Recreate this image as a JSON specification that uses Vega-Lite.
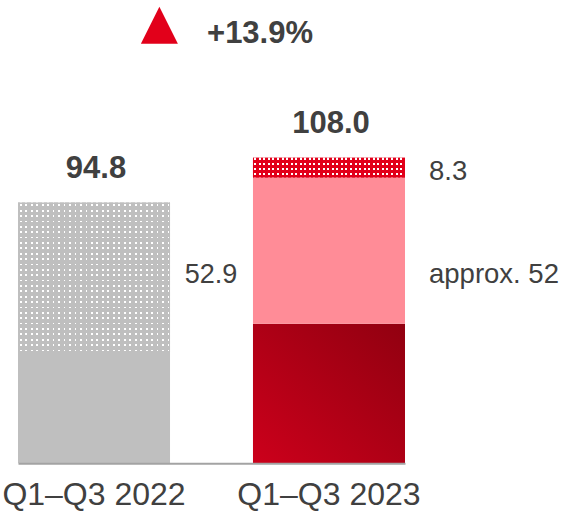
{
 "$schema": "https://vega.github.io/schema/vega-lite/v6.json",
 "width": 562,
 "height": 463.3,
 "autosize": "none",
 "padding": {"left": 0, "top": 0, "right": 0, "bottom": 48.7},
 "background": "white",
 "config": {"view": {"stroke": null}, "font": "Liberation Sans"},
 "datasets": {
  "bars": [
   {"cat": "Q1–Q3 2022", "seg": "grey", "order": 1, "v": 40.5, "totalLabel": "94.8"},
   {"cat": "Q1–Q3 2022", "seg": "greydots", "order": 2, "v": 54.3, "totalLabel": "94.8"},
   {"cat": "Q1–Q3 2023", "seg": "dark", "order": 1, "v": 50.7, "totalLabel": "108.0"},
   {"cat": "Q1–Q3 2023", "seg": "pink", "order": 2, "v": 53.2, "totalLabel": "108.0"},
   {"cat": "Q1–Q3 2023", "seg": "reddots", "order": 3, "v": 7.2, "totalLabel": "108.0"}
  ],
  "labels": [
   {"cat": "Q1–Q3 2022", "label": "52.9", "at": 65.5},
   {"cat": "Q1–Q3 2023", "label": "approx. 52", "at": 65.6},
   {"cat": "Q1–Q3 2023", "label": "8.3", "at": 103.0}
  ],
  "head": [{"label": "+13.9%", "at": 152.9, "tri": 159.3}]
 },
 "layer": [
  {
   "data": {"name": "bars"},
   "transform": [
    {"stack": "v", "groupby": ["cat"], "sort": [{"field": "order", "order": "ascending"}], "as": ["y0", "y1"]}
   ],
   "layer": [
    {
     "transform": [{"filter": "datum.seg === 'grey'"}],
     "mark": {"type": "bar", "fill": "#bfbfbf"},
     "encoding": {
      "x": {"field": "cat", "type": "nominal", "sort": null,
        "scale": {"range": [18, 405], "paddingInner": 0.353, "paddingOuter": 0},
        "axis": {"title": null, "domainColor": "#a3a3a3", "domainWidth": 2, "ticks": false, "grid": false,
          "labelFontSize": 32, "labelColor": "#404040", "labelPadding": 16, "labelAngle": 0, "labelLimit": 0,
          "labelFont": "Liberation Sans", "zindex": 1}},
      "y": {"field": "y0", "type": "quantitative", "scale": {"domain": [0, 168.47], "nice": false, "zero": false}, "axis": null},
      "y2": {"field": "y1"}
     }
    },
    {
     "transform": [{"filter": "datum.seg === 'greydots'"}],
     "mark": {"type": "bar", "fill": {"gradient": "linear", "x1": 0, "y1": 0, "x2": 0, "y2": 1, "stops": [
      {"offset": 0, "color": "#bfbfbf"},
      {"offset": 0.012, "color": "#bfbfbf"}, {"offset": 0.012, "color": "#ffffff"}, {"offset": 0.024, "color": "#ffffff"}, {"offset": 0.024, "color": "#bfbfbf"},
      {"offset": 0.048, "color": "#bfbfbf"}, {"offset": 0.048, "color": "#ffffff"}, {"offset": 0.060, "color": "#ffffff"}, {"offset": 0.060, "color": "#bfbfbf"},
      {"offset": 0.084, "color": "#bfbfbf"}, {"offset": 0.084, "color": "#ffffff"}, {"offset": 0.096, "color": "#ffffff"}, {"offset": 0.096, "color": "#bfbfbf"},
      {"offset": 0.120, "color": "#bfbfbf"}, {"offset": 0.120, "color": "#ffffff"}, {"offset": 0.132, "color": "#ffffff"}, {"offset": 0.132, "color": "#bfbfbf"},
      {"offset": 0.156, "color": "#bfbfbf"}, {"offset": 0.156, "color": "#ffffff"}, {"offset": 0.168, "color": "#ffffff"}, {"offset": 0.168, "color": "#bfbfbf"},
      {"offset": 0.192, "color": "#bfbfbf"}, {"offset": 0.192, "color": "#ffffff"}, {"offset": 0.204, "color": "#ffffff"}, {"offset": 0.204, "color": "#bfbfbf"},
      {"offset": 0.228, "color": "#bfbfbf"}, {"offset": 0.228, "color": "#ffffff"}, {"offset": 0.240, "color": "#ffffff"}, {"offset": 0.240, "color": "#bfbfbf"},
      {"offset": 0.264, "color": "#bfbfbf"}, {"offset": 0.264, "color": "#ffffff"}, {"offset": 0.276, "color": "#ffffff"}, {"offset": 0.276, "color": "#bfbfbf"},
      {"offset": 0.300, "color": "#bfbfbf"}, {"offset": 0.300, "color": "#ffffff"}, {"offset": 0.312, "color": "#ffffff"}, {"offset": 0.312, "color": "#bfbfbf"},
      {"offset": 0.336, "color": "#bfbfbf"}, {"offset": 0.336, "color": "#ffffff"}, {"offset": 0.348, "color": "#ffffff"}, {"offset": 0.348, "color": "#bfbfbf"},
      {"offset": 0.372, "color": "#bfbfbf"}, {"offset": 0.372, "color": "#ffffff"}, {"offset": 0.384, "color": "#ffffff"}, {"offset": 0.384, "color": "#bfbfbf"},
      {"offset": 0.408, "color": "#bfbfbf"}, {"offset": 0.408, "color": "#ffffff"}, {"offset": 0.420, "color": "#ffffff"}, {"offset": 0.420, "color": "#bfbfbf"},
      {"offset": 0.444, "color": "#bfbfbf"}, {"offset": 0.444, "color": "#ffffff"}, {"offset": 0.456, "color": "#ffffff"}, {"offset": 0.456, "color": "#bfbfbf"},
      {"offset": 0.480, "color": "#bfbfbf"}, {"offset": 0.480, "color": "#ffffff"}, {"offset": 0.492, "color": "#ffffff"}, {"offset": 0.492, "color": "#bfbfbf"},
      {"offset": 0.516, "color": "#bfbfbf"}, {"offset": 0.516, "color": "#ffffff"}, {"offset": 0.528, "color": "#ffffff"}, {"offset": 0.528, "color": "#bfbfbf"},
      {"offset": 0.552, "color": "#bfbfbf"}, {"offset": 0.552, "color": "#ffffff"}, {"offset": 0.564, "color": "#ffffff"}, {"offset": 0.564, "color": "#bfbfbf"},
      {"offset": 0.588, "color": "#bfbfbf"}, {"offset": 0.588, "color": "#ffffff"}, {"offset": 0.600, "color": "#ffffff"}, {"offset": 0.600, "color": "#bfbfbf"},
      {"offset": 0.624, "color": "#bfbfbf"}, {"offset": 0.624, "color": "#ffffff"}, {"offset": 0.636, "color": "#ffffff"}, {"offset": 0.636, "color": "#bfbfbf"},
      {"offset": 0.660, "color": "#bfbfbf"}, {"offset": 0.660, "color": "#ffffff"}, {"offset": 0.672, "color": "#ffffff"}, {"offset": 0.672, "color": "#bfbfbf"},
      {"offset": 0.696, "color": "#bfbfbf"}, {"offset": 0.696, "color": "#ffffff"}, {"offset": 0.708, "color": "#ffffff"}, {"offset": 0.708, "color": "#bfbfbf"},
      {"offset": 0.732, "color": "#bfbfbf"}, {"offset": 0.732, "color": "#ffffff"}, {"offset": 0.744, "color": "#ffffff"}, {"offset": 0.744, "color": "#bfbfbf"},
      {"offset": 0.768, "color": "#bfbfbf"}, {"offset": 0.768, "color": "#ffffff"}, {"offset": 0.780, "color": "#ffffff"}, {"offset": 0.780, "color": "#bfbfbf"},
      {"offset": 0.804, "color": "#bfbfbf"}, {"offset": 0.804, "color": "#ffffff"}, {"offset": 0.816, "color": "#ffffff"}, {"offset": 0.816, "color": "#bfbfbf"},
      {"offset": 0.840, "color": "#bfbfbf"}, {"offset": 0.840, "color": "#ffffff"}, {"offset": 0.852, "color": "#ffffff"}, {"offset": 0.852, "color": "#bfbfbf"},
      {"offset": 0.876, "color": "#bfbfbf"}, {"offset": 0.876, "color": "#ffffff"}, {"offset": 0.888, "color": "#ffffff"}, {"offset": 0.888, "color": "#bfbfbf"},
      {"offset": 0.912, "color": "#bfbfbf"}, {"offset": 0.912, "color": "#ffffff"}, {"offset": 0.924, "color": "#ffffff"}, {"offset": 0.924, "color": "#bfbfbf"},
      {"offset": 0.948, "color": "#bfbfbf"}, {"offset": 0.948, "color": "#ffffff"}, {"offset": 0.960, "color": "#ffffff"}, {"offset": 0.960, "color": "#bfbfbf"},
      {"offset": 0.984, "color": "#bfbfbf"}, {"offset": 0.984, "color": "#ffffff"}, {"offset": 0.996, "color": "#ffffff"}, {"offset": 0.996, "color": "#bfbfbf"},
      {"offset": 1, "color": "#bfbfbf"}
     ]}},
     "encoding": {
      "x": {"field": "cat", "type": "nominal", "sort": null},
      "y": {"field": "y0", "type": "quantitative", "axis": null},
      "y2": {"field": "y1"}
     }
    },
    {
     "transform": [{"filter": "datum.seg === 'greydots'"}],
     "mark": {"type": "bar", "fill": {"gradient": "linear", "x1": 0, "y1": 0, "x2": 1, "y2": 0, "stops": [
      {"offset": 0, "color": "#bfbfbf"},
      {"offset": 0.012, "color": "#bfbfbf"}, {"offset": 0.012, "color": "rgba(191,191,191,0)"}, {"offset": 0.024, "color": "rgba(191,191,191,0)"}, {"offset": 0.024, "color": "#bfbfbf"},
      {"offset": 0.048, "color": "#bfbfbf"}, {"offset": 0.048, "color": "rgba(191,191,191,0)"}, {"offset": 0.060, "color": "rgba(191,191,191,0)"}, {"offset": 0.060, "color": "#bfbfbf"},
      {"offset": 0.084, "color": "#bfbfbf"}, {"offset": 0.084, "color": "rgba(191,191,191,0)"}, {"offset": 0.096, "color": "rgba(191,191,191,0)"}, {"offset": 0.096, "color": "#bfbfbf"},
      {"offset": 0.120, "color": "#bfbfbf"}, {"offset": 0.120, "color": "rgba(191,191,191,0)"}, {"offset": 0.132, "color": "rgba(191,191,191,0)"}, {"offset": 0.132, "color": "#bfbfbf"},
      {"offset": 0.156, "color": "#bfbfbf"}, {"offset": 0.156, "color": "rgba(191,191,191,0)"}, {"offset": 0.168, "color": "rgba(191,191,191,0)"}, {"offset": 0.168, "color": "#bfbfbf"},
      {"offset": 0.192, "color": "#bfbfbf"}, {"offset": 0.192, "color": "rgba(191,191,191,0)"}, {"offset": 0.204, "color": "rgba(191,191,191,0)"}, {"offset": 0.204, "color": "#bfbfbf"},
      {"offset": 0.228, "color": "#bfbfbf"}, {"offset": 0.228, "color": "rgba(191,191,191,0)"}, {"offset": 0.240, "color": "rgba(191,191,191,0)"}, {"offset": 0.240, "color": "#bfbfbf"},
      {"offset": 0.264, "color": "#bfbfbf"}, {"offset": 0.264, "color": "rgba(191,191,191,0)"}, {"offset": 0.276, "color": "rgba(191,191,191,0)"}, {"offset": 0.276, "color": "#bfbfbf"},
      {"offset": 0.300, "color": "#bfbfbf"}, {"offset": 0.300, "color": "rgba(191,191,191,0)"}, {"offset": 0.312, "color": "rgba(191,191,191,0)"}, {"offset": 0.312, "color": "#bfbfbf"},
      {"offset": 0.336, "color": "#bfbfbf"}, {"offset": 0.336, "color": "rgba(191,191,191,0)"}, {"offset": 0.348, "color": "rgba(191,191,191,0)"}, {"offset": 0.348, "color": "#bfbfbf"},
      {"offset": 0.372, "color": "#bfbfbf"}, {"offset": 0.372, "color": "rgba(191,191,191,0)"}, {"offset": 0.384, "color": "rgba(191,191,191,0)"}, {"offset": 0.384, "color": "#bfbfbf"},
      {"offset": 0.408, "color": "#bfbfbf"}, {"offset": 0.408, "color": "rgba(191,191,191,0)"}, {"offset": 0.420, "color": "rgba(191,191,191,0)"}, {"offset": 0.420, "color": "#bfbfbf"},
      {"offset": 0.444, "color": "#bfbfbf"}, {"offset": 0.444, "color": "rgba(191,191,191,0)"}, {"offset": 0.456, "color": "rgba(191,191,191,0)"}, {"offset": 0.456, "color": "#bfbfbf"},
      {"offset": 0.480, "color": "#bfbfbf"}, {"offset": 0.480, "color": "rgba(191,191,191,0)"}, {"offset": 0.492, "color": "rgba(191,191,191,0)"}, {"offset": 0.492, "color": "#bfbfbf"},
      {"offset": 0.516, "color": "#bfbfbf"}, {"offset": 0.516, "color": "rgba(191,191,191,0)"}, {"offset": 0.528, "color": "rgba(191,191,191,0)"}, {"offset": 0.528, "color": "#bfbfbf"},
      {"offset": 0.552, "color": "#bfbfbf"}, {"offset": 0.552, "color": "rgba(191,191,191,0)"}, {"offset": 0.564, "color": "rgba(191,191,191,0)"}, {"offset": 0.564, "color": "#bfbfbf"},
      {"offset": 0.588, "color": "#bfbfbf"}, {"offset": 0.588, "color": "rgba(191,191,191,0)"}, {"offset": 0.600, "color": "rgba(191,191,191,0)"}, {"offset": 0.600, "color": "#bfbfbf"},
      {"offset": 0.624, "color": "#bfbfbf"}, {"offset": 0.624, "color": "rgba(191,191,191,0)"}, {"offset": 0.636, "color": "rgba(191,191,191,0)"}, {"offset": 0.636, "color": "#bfbfbf"},
      {"offset": 0.660, "color": "#bfbfbf"}, {"offset": 0.660, "color": "rgba(191,191,191,0)"}, {"offset": 0.672, "color": "rgba(191,191,191,0)"}, {"offset": 0.672, "color": "#bfbfbf"},
      {"offset": 0.696, "color": "#bfbfbf"}, {"offset": 0.696, "color": "rgba(191,191,191,0)"}, {"offset": 0.708, "color": "rgba(191,191,191,0)"}, {"offset": 0.708, "color": "#bfbfbf"},
      {"offset": 0.732, "color": "#bfbfbf"}, {"offset": 0.732, "color": "rgba(191,191,191,0)"}, {"offset": 0.744, "color": "rgba(191,191,191,0)"}, {"offset": 0.744, "color": "#bfbfbf"},
      {"offset": 0.768, "color": "#bfbfbf"}, {"offset": 0.768, "color": "rgba(191,191,191,0)"}, {"offset": 0.780, "color": "rgba(191,191,191,0)"}, {"offset": 0.780, "color": "#bfbfbf"},
      {"offset": 0.804, "color": "#bfbfbf"}, {"offset": 0.804, "color": "rgba(191,191,191,0)"}, {"offset": 0.816, "color": "rgba(191,191,191,0)"}, {"offset": 0.816, "color": "#bfbfbf"},
      {"offset": 0.840, "color": "#bfbfbf"}, {"offset": 0.840, "color": "rgba(191,191,191,0)"}, {"offset": 0.852, "color": "rgba(191,191,191,0)"}, {"offset": 0.852, "color": "#bfbfbf"},
      {"offset": 0.876, "color": "#bfbfbf"}, {"offset": 0.876, "color": "rgba(191,191,191,0)"}, {"offset": 0.888, "color": "rgba(191,191,191,0)"}, {"offset": 0.888, "color": "#bfbfbf"},
      {"offset": 0.912, "color": "#bfbfbf"}, {"offset": 0.912, "color": "rgba(191,191,191,0)"}, {"offset": 0.924, "color": "rgba(191,191,191,0)"}, {"offset": 0.924, "color": "#bfbfbf"},
      {"offset": 0.948, "color": "#bfbfbf"}, {"offset": 0.948, "color": "rgba(191,191,191,0)"}, {"offset": 0.960, "color": "rgba(191,191,191,0)"}, {"offset": 0.960, "color": "#bfbfbf"},
      {"offset": 0.984, "color": "#bfbfbf"}, {"offset": 0.984, "color": "rgba(191,191,191,0)"}, {"offset": 0.996, "color": "rgba(191,191,191,0)"}, {"offset": 0.996, "color": "#bfbfbf"},
      {"offset": 1, "color": "#bfbfbf"}
     ]}},
     "encoding": {
      "x": {"field": "cat", "type": "nominal", "sort": null},
      "y": {"field": "y0", "type": "quantitative", "axis": null},
      "y2": {"field": "y1"}
     }
    },
    {
     "transform": [{"filter": "datum.seg === 'dark'"}],
     "mark": {"type": "bar", "fill": {"gradient": "linear", "x1": 0, "y1": 1, "x2": 1, "y2": 0, "stops": [
      {"offset": 0, "color": "#cc001b"}, {"offset": 1, "color": "#910010"}
     ]}},
     "encoding": {
      "x": {"field": "cat", "type": "nominal", "sort": null},
      "y": {"field": "y0", "type": "quantitative", "axis": null},
      "y2": {"field": "y1"}
     }
    },
    {
     "transform": [{"filter": "datum.seg === 'pink'"}],
     "mark": {"type": "bar", "fill": "#ff8c97"},
     "encoding": {
      "x": {"field": "cat", "type": "nominal", "sort": null},
      "y": {"field": "y0", "type": "quantitative", "axis": null},
      "y2": {"field": "y1"}
     }
    },
    {
     "transform": [{"filter": "datum.seg === 'reddots'"}],
     "mark": {"type": "bar", "fill": {"gradient": "linear", "x1": 0, "y1": 0, "x2": 0, "y2": 1, "stops": [
      {"offset": 0, "color": "#e2001a"},
      {"offset": 0.03, "color": "#e2001a"}, {"offset": 0.03, "color": "#ffffff"}, {"offset": 0.13, "color": "#ffffff"}, {"offset": 0.13, "color": "#e2001a"},
      {"offset": 0.27, "color": "#e2001a"}, {"offset": 0.27, "color": "#ffffff"}, {"offset": 0.37, "color": "#ffffff"}, {"offset": 0.37, "color": "#e2001a"},
      {"offset": 0.51, "color": "#e2001a"}, {"offset": 0.51, "color": "#ffffff"}, {"offset": 0.61, "color": "#ffffff"}, {"offset": 0.61, "color": "#e2001a"},
      {"offset": 0.75, "color": "#e2001a"}, {"offset": 0.75, "color": "#ffffff"}, {"offset": 0.85, "color": "#ffffff"}, {"offset": 0.85, "color": "#e2001a"},
      {"offset": 1, "color": "#e2001a"}
     ]}},
     "encoding": {
      "x": {"field": "cat", "type": "nominal", "sort": null},
      "y": {"field": "y0", "type": "quantitative", "axis": null},
      "y2": {"field": "y1"}
     }
    },
    {
     "transform": [{"filter": "datum.seg === 'reddots'"}],
     "mark": {"type": "bar", "fill": {"gradient": "linear", "x1": 0, "y1": 0, "x2": 1, "y2": 0, "stops": [
      {"offset": 0, "color": "#e2001a"},
      {"offset": 0.008, "color": "#e2001a"}, {"offset": 0.008, "color": "rgba(226,0,26,0)"}, {"offset": 0.021, "color": "rgba(226,0,26,0)"}, {"offset": 0.021, "color": "#e2001a"},
      {"offset": 0.038, "color": "#e2001a"}, {"offset": 0.038, "color": "rgba(226,0,26,0)"}, {"offset": 0.051, "color": "rgba(226,0,26,0)"}, {"offset": 0.051, "color": "#e2001a"},
      {"offset": 0.068, "color": "#e2001a"}, {"offset": 0.068, "color": "rgba(226,0,26,0)"}, {"offset": 0.081, "color": "rgba(226,0,26,0)"}, {"offset": 0.081, "color": "#e2001a"},
      {"offset": 0.098, "color": "#e2001a"}, {"offset": 0.098, "color": "rgba(226,0,26,0)"}, {"offset": 0.111, "color": "rgba(226,0,26,0)"}, {"offset": 0.111, "color": "#e2001a"},
      {"offset": 0.128, "color": "#e2001a"}, {"offset": 0.128, "color": "rgba(226,0,26,0)"}, {"offset": 0.141, "color": "rgba(226,0,26,0)"}, {"offset": 0.141, "color": "#e2001a"},
      {"offset": 0.158, "color": "#e2001a"}, {"offset": 0.158, "color": "rgba(226,0,26,0)"}, {"offset": 0.171, "color": "rgba(226,0,26,0)"}, {"offset": 0.171, "color": "#e2001a"},
      {"offset": 0.188, "color": "#e2001a"}, {"offset": 0.188, "color": "rgba(226,0,26,0)"}, {"offset": 0.201, "color": "rgba(226,0,26,0)"}, {"offset": 0.201, "color": "#e2001a"},
      {"offset": 0.218, "color": "#e2001a"}, {"offset": 0.218, "color": "rgba(226,0,26,0)"}, {"offset": 0.231, "color": "rgba(226,0,26,0)"}, {"offset": 0.231, "color": "#e2001a"},
      {"offset": 0.248, "color": "#e2001a"}, {"offset": 0.248, "color": "rgba(226,0,26,0)"}, {"offset": 0.261, "color": "rgba(226,0,26,0)"}, {"offset": 0.261, "color": "#e2001a"},
      {"offset": 0.278, "color": "#e2001a"}, {"offset": 0.278, "color": "rgba(226,0,26,0)"}, {"offset": 0.291, "color": "rgba(226,0,26,0)"}, {"offset": 0.291, "color": "#e2001a"},
      {"offset": 0.308, "color": "#e2001a"}, {"offset": 0.308, "color": "rgba(226,0,26,0)"}, {"offset": 0.321, "color": "rgba(226,0,26,0)"}, {"offset": 0.321, "color": "#e2001a"},
      {"offset": 0.338, "color": "#e2001a"}, {"offset": 0.338, "color": "rgba(226,0,26,0)"}, {"offset": 0.351, "color": "rgba(226,0,26,0)"}, {"offset": 0.351, "color": "#e2001a"},
      {"offset": 0.368, "color": "#e2001a"}, {"offset": 0.368, "color": "rgba(226,0,26,0)"}, {"offset": 0.381, "color": "rgba(226,0,26,0)"}, {"offset": 0.381, "color": "#e2001a"},
      {"offset": 0.398, "color": "#e2001a"}, {"offset": 0.398, "color": "rgba(226,0,26,0)"}, {"offset": 0.411, "color": "rgba(226,0,26,0)"}, {"offset": 0.411, "color": "#e2001a"},
      {"offset": 0.428, "color": "#e2001a"}, {"offset": 0.428, "color": "rgba(226,0,26,0)"}, {"offset": 0.441, "color": "rgba(226,0,26,0)"}, {"offset": 0.441, "color": "#e2001a"},
      {"offset": 0.458, "color": "#e2001a"}, {"offset": 0.458, "color": "rgba(226,0,26,0)"}, {"offset": 0.471, "color": "rgba(226,0,26,0)"}, {"offset": 0.471, "color": "#e2001a"},
      {"offset": 0.488, "color": "#e2001a"}, {"offset": 0.488, "color": "rgba(226,0,26,0)"}, {"offset": 0.501, "color": "rgba(226,0,26,0)"}, {"offset": 0.501, "color": "#e2001a"},
      {"offset": 0.518, "color": "#e2001a"}, {"offset": 0.518, "color": "rgba(226,0,26,0)"}, {"offset": 0.531, "color": "rgba(226,0,26,0)"}, {"offset": 0.531, "color": "#e2001a"},
      {"offset": 0.548, "color": "#e2001a"}, {"offset": 0.548, "color": "rgba(226,0,26,0)"}, {"offset": 0.561, "color": "rgba(226,0,26,0)"}, {"offset": 0.561, "color": "#e2001a"},
      {"offset": 0.578, "color": "#e2001a"}, {"offset": 0.578, "color": "rgba(226,0,26,0)"}, {"offset": 0.591, "color": "rgba(226,0,26,0)"}, {"offset": 0.591, "color": "#e2001a"},
      {"offset": 0.608, "color": "#e2001a"}, {"offset": 0.608, "color": "rgba(226,0,26,0)"}, {"offset": 0.621, "color": "rgba(226,0,26,0)"}, {"offset": 0.621, "color": "#e2001a"},
      {"offset": 0.638, "color": "#e2001a"}, {"offset": 0.638, "color": "rgba(226,0,26,0)"}, {"offset": 0.651, "color": "rgba(226,0,26,0)"}, {"offset": 0.651, "color": "#e2001a"},
      {"offset": 0.668, "color": "#e2001a"}, {"offset": 0.668, "color": "rgba(226,0,26,0)"}, {"offset": 0.681, "color": "rgba(226,0,26,0)"}, {"offset": 0.681, "color": "#e2001a"},
      {"offset": 0.698, "color": "#e2001a"}, {"offset": 0.698, "color": "rgba(226,0,26,0)"}, {"offset": 0.711, "color": "rgba(226,0,26,0)"}, {"offset": 0.711, "color": "#e2001a"},
      {"offset": 0.728, "color": "#e2001a"}, {"offset": 0.728, "color": "rgba(226,0,26,0)"}, {"offset": 0.741, "color": "rgba(226,0,26,0)"}, {"offset": 0.741, "color": "#e2001a"},
      {"offset": 0.758, "color": "#e2001a"}, {"offset": 0.758, "color": "rgba(226,0,26,0)"}, {"offset": 0.771, "color": "rgba(226,0,26,0)"}, {"offset": 0.771, "color": "#e2001a"},
      {"offset": 0.788, "color": "#e2001a"}, {"offset": 0.788, "color": "rgba(226,0,26,0)"}, {"offset": 0.801, "color": "rgba(226,0,26,0)"}, {"offset": 0.801, "color": "#e2001a"},
      {"offset": 0.818, "color": "#e2001a"}, {"offset": 0.818, "color": "rgba(226,0,26,0)"}, {"offset": 0.831, "color": "rgba(226,0,26,0)"}, {"offset": 0.831, "color": "#e2001a"},
      {"offset": 0.848, "color": "#e2001a"}, {"offset": 0.848, "color": "rgba(226,0,26,0)"}, {"offset": 0.861, "color": "rgba(226,0,26,0)"}, {"offset": 0.861, "color": "#e2001a"},
      {"offset": 0.878, "color": "#e2001a"}, {"offset": 0.878, "color": "rgba(226,0,26,0)"}, {"offset": 0.891, "color": "rgba(226,0,26,0)"}, {"offset": 0.891, "color": "#e2001a"},
      {"offset": 0.908, "color": "#e2001a"}, {"offset": 0.908, "color": "rgba(226,0,26,0)"}, {"offset": 0.921, "color": "rgba(226,0,26,0)"}, {"offset": 0.921, "color": "#e2001a"},
      {"offset": 0.938, "color": "#e2001a"}, {"offset": 0.938, "color": "rgba(226,0,26,0)"}, {"offset": 0.951, "color": "rgba(226,0,26,0)"}, {"offset": 0.951, "color": "#e2001a"},
      {"offset": 0.968, "color": "#e2001a"}, {"offset": 0.968, "color": "rgba(226,0,26,0)"}, {"offset": 0.981, "color": "rgba(226,0,26,0)"}, {"offset": 0.981, "color": "#e2001a"},
      {"offset": 1, "color": "#e2001a"}
     ]}},
     "encoding": {
      "x": {"field": "cat", "type": "nominal", "sort": null},
      "y": {"field": "y0", "type": "quantitative", "axis": null},
      "y2": {"field": "y1"}
     }
    },
    {
     "transform": [
      {"joinaggregate": [{"op": "sum", "field": "v", "as": "tot"}], "groupby": ["cat"]},
      {"filter": "datum.order === 1"}
     ],
     "mark": {"type": "text", "fontSize": 31, "fontWeight": "bold", "color": "#404040", "dy": -25, "dx": 2, "baseline": "alphabetic", "align": "center", "font": "Liberation Sans"},
     "encoding": {
      "x": {"field": "cat", "type": "nominal", "sort": null},
      "y": {"field": "tot", "type": "quantitative", "axis": null},
      "text": {"field": "totalLabel"}
     }
    }
   ]
  },
  {
   "data": {"name": "labels"},
   "layer": [
    {
     "transform": [{"filter": "datum.cat === 'Q1–Q3 2022'"}],
     "mark": {"type": "text", "fontSize": 27, "color": "#404040", "align": "center", "baseline": "alphabetic", "dx": 41, "font": "Liberation Sans"},
     "encoding": {
      "x": {"field": "cat", "type": "nominal", "sort": null, "bandPosition": 1},
      "y": {"field": "at", "type": "quantitative", "axis": null},
      "text": {"field": "label"}
     }
    },
    {
     "transform": [{"filter": "datum.cat === 'Q1–Q3 2023'"}],
     "mark": {"type": "text", "fontSize": 27.5, "color": "#404040", "align": "left", "baseline": "alphabetic", "dx": 24, "font": "Liberation Sans"},
     "encoding": {
      "x": {"field": "cat", "type": "nominal", "sort": null, "bandPosition": 1},
      "y": {"field": "at", "type": "quantitative", "axis": null},
      "text": {"field": "label"}
     }
    }
   ]
  },
  {
   "data": {"name": "head"},
   "layer": [
    {
     "mark": {"type": "point", "shape": "M0,-1L1,1L-1,1Z", "size": 1369, "filled": true, "color": "#e2001a", "opacity": 1, "strokeWidth": 0},
     "encoding": {
      "x": {"datum": "Q1–Q3 2022", "type": "nominal", "bandPosition": 0.93},
      "y": {"field": "tri", "type": "quantitative", "axis": null}
     }
    },
    {
     "mark": {"type": "text", "fontSize": 31, "fontWeight": "bold", "color": "#404040", "align": "left", "baseline": "alphabetic", "dx": 37, "font": "Liberation Sans"},
     "encoding": {
      "x": {"datum": "Q1–Q3 2022", "type": "nominal", "bandPosition": 1},
      "y": {"field": "at", "type": "quantitative", "axis": null},
      "text": {"field": "label"}
     }
    }
   ]
  }
 ]
}
